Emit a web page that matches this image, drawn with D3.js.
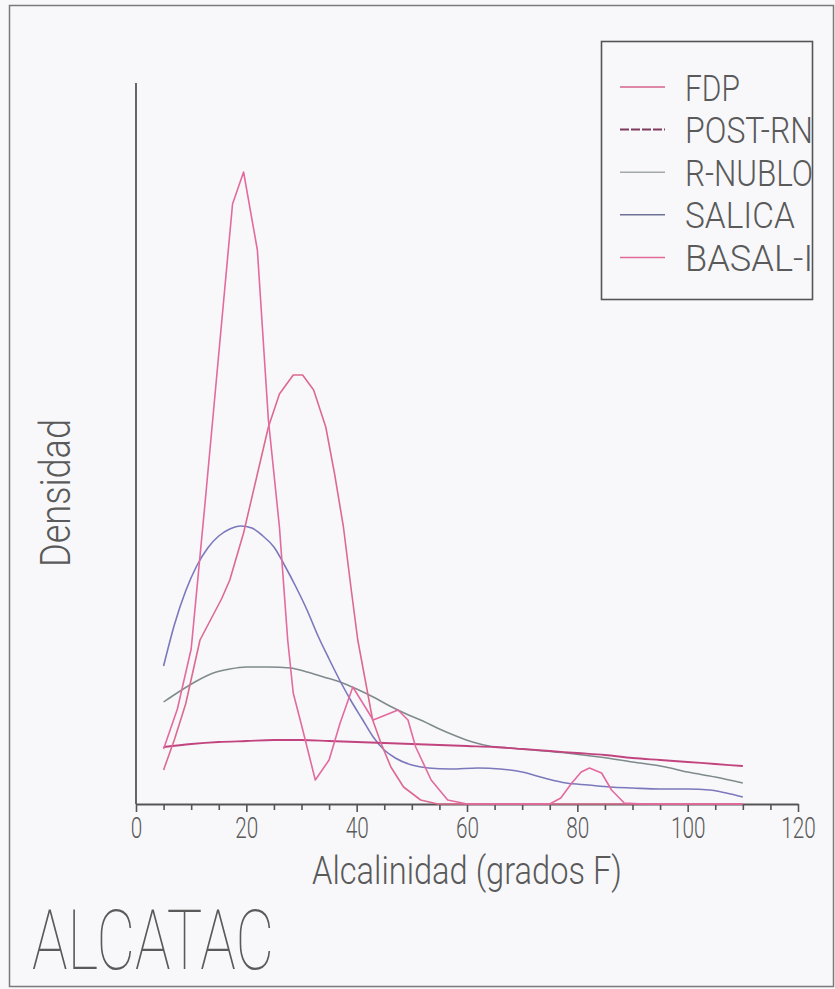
<!DOCTYPE html>
<html><head><meta charset="utf-8">
<script src="https://cdn.jsdelivr.net/npm/d3@7/dist/d3.min.js"></script>
<style>
html,body{margin:0;padding:0;background:#f8f8fb;}
svg{display:block;}
text{font-family:Roboto,"Liberation Sans","DejaVu Sans",sans-serif;fill:#5a5a5a;}
</style></head>
<body>
<div id="chart"></div>
<script>
// ---- data (x in grados F, y in relative density units) ----
const seriesNames = ["FDP","POST-RN","R-NUBLO","SALICA","BASAL-I"];

const fdpX = [5,7,9,11.6,13.5,15.5,17,19.5,22,24,26,28.5,30.2,32.2,34.4,36,37.6,39,40.2,42.9,44.4,46.2,48.5,51.6,54.7,60,110];
const fdpY = [3.4,6.5,10,16.4,18.4,20.5,22.4,27.1,33,37.7,41,42.9,42.9,41.4,37.7,33,27.7,21.5,16.4,8.4,6.1,3.7,1.7,0.4,0,0,0];

const postX = [5,10,15,20,25,30,35,40,45,50,55,60,65,70,75,80,85,90,95,100,105,110];
const postY = [5.7,6.0,6.2,6.3,6.4,6.4,6.3,6.2,6.1,6.0,5.9,5.8,5.7,5.5,5.3,5.1,4.9,4.6,4.4,4.2,4.0,3.8];

const nubloX = [5,8,11,14,17,20,24,28,31,34,37,40,43,46,49,52,55,58,61,64,68,72,78,84,90,96,100,105,110];
const nubloY = [10.2,11.3,12.3,13.1,13.5,13.7,13.7,13.6,13.2,12.7,12.2,11.5,10.7,9.8,9.0,8.3,7.5,6.8,6.2,5.8,5.6,5.4,5.1,4.7,4.2,3.7,3.2,2.7,2.1];

const salicaX = [5,7,9,11,13,15,17,19,21,23,25,27,29,31,33,35,37,39,41,43,45,47,50,53,57,62,66,70,74,78,82,86,90,95,100,104,107,110];
const salicaY = [13.8,18.0,21.3,23.8,25.6,26.8,27.5,27.8,27.6,26.8,25.7,23.8,21.7,19.4,16.8,14.5,12.3,10.3,8.5,6.7,5.4,4.6,3.9,3.6,3.5,3.6,3.5,3.2,2.6,2.1,1.9,1.7,1.6,1.5,1.5,1.4,1.1,0.7];

const basalX = [5,7.5,10,12.5,15,17.5,19.5,22,24,26,27.5,28.5,30,32.5,35,37,39.3,43,47.5,49.3,50.7,53.5,56.5,60,75,77,79,80.7,82.2,84.4,86.2,88.5,92,110];
const basalY = [5.5,9.5,15.5,30,45,60,63.2,55.4,38.4,27.7,16.4,11.1,7.9,2.4,4.4,8.1,11.7,8.4,9.4,8.4,5.7,2.4,0.4,0,0,0.6,2.1,3.2,3.6,3.1,1.4,0.1,0,0];

const xTickValues = [0,5,10,15,20,25,30,35,40,45,50,55,60,65,70,75,80,85,90,95,100,105,110,115,120];
const xTickLabels = [0,20,40,60,80,100,120];

const xTitle = "Alcalinidad (grados F)";
const yTitle = "Densidad";
const chartTitle = "ALCATAC";

// ---- layout ----
const W = 835, H = 989;
const svg = d3.select("#chart").append("svg").attr("width",W).attr("height",H);

svg.append("rect").attr("width",W).attr("height",H).attr("fill","#f8f8fb");
// outer frame
svg.append("rect").attr("x",9.5).attr("y",5.5).attr("width",824).attr("height",981)
  .attr("fill","none").attr("stroke","#7a7a7a").attr("stroke-width",1.5);

const x = d3.scaleLinear().domain([0,120]).range([136,798]);
const y = d3.scaleLinear().domain([0,72]).range([804,84]);

// axes
const xAxis = d3.axisBottom(x).tickValues(xTickValues).tickSize(6).tickSizeOuter(0)
  .tickFormat(d => xTickLabels.includes(d) ? String(d) : "");
const gx = svg.append("g").attr("transform",`translate(0,${y(0)})`).call(xAxis);
gx.select(".domain").attr("stroke","#555").attr("stroke-width",1.8);
gx.selectAll(".tick line").attr("stroke","#555").attr("stroke-width",1.6)
  .attr("y2", d => xTickLabels.includes(d) ? 8 : 6);
gx.selectAll(".tick text")
  .attr("y",13).attr("dy","0.71em")
  .style("font-size","30px").style("font-family","Roboto, 'Liberation Sans', sans-serif").style("font-weight","300")
  .attr("fill","#5a5a5a")
  .each(function(d){ if(xTickLabels.includes(d)){ const n=String(d).length; d3.select(this).attr("textLength",n*11.5).attr("lengthAdjust","spacingAndGlyphs"); }});

svg.append("line").attr("x1",x(0)).attr("x2",x(0)).attr("y1",y(0)).attr("y2",83)
  .attr("stroke","#555").attr("stroke-width",1.8);

// titles
svg.append("text").attr("x",467).attr("y",884).attr("text-anchor","middle")
  .style("font-size","38px").style("font-weight","300").attr("textLength",310).attr("lengthAdjust","spacingAndGlyphs")
  .text(xTitle);
svg.append("text").attr("transform","translate(70,493) rotate(-90)").attr("text-anchor","middle")
  .style("font-size","42px").style("font-weight","300").attr("textLength",148).attr("lengthAdjust","spacingAndGlyphs")
  .text(yTitle);
svg.append("text").attr("x",32).attr("y",969)
  .style("font-size","84px").style("font-family","Roboto, Lato, sans-serif").style("font-weight","100")
  .attr("textLength",242).attr("lengthAdjust","spacingAndGlyphs")
  .attr("fill","#555").text(chartTitle);

// series
const series = [
  {name:"FDP", xs:fdpX, ys:fdpY, color:"#dc6a8e", w:1.6, curve:d3.curveLinear},
  {name:"POST-RN", xs:postX, ys:postY, color:"#c2447f", w:1.8, curve:d3.curveMonotoneX},
  {name:"R-NUBLO", xs:nubloX, ys:nubloY, color:"#7f8a8c", w:1.5, curve:d3.curveMonotoneX},
  {name:"SALICA", xs:salicaX, ys:salicaY, color:"#7b78bc", w:1.6, curve:d3.curveMonotoneX},
  {name:"BASAL-I", xs:basalX, ys:basalY, color:"#e36a9e", w:1.6, curve:d3.curveLinear}
];
const drawOrder = ["R-NUBLO","SALICA","POST-RN","FDP","BASAL-I"];
drawOrder.forEach(nm => {
  const s = series.find(d=>d.name===nm);
  const pts = s.xs.map((v,i)=>[v,s.ys[i]]);
  svg.append("path").datum(pts)
    .attr("d", d3.line().x(d=>x(d[0])).y(d=>y(d[1])).curve(s.curve))
    .attr("fill","none").attr("stroke",s.color).attr("stroke-width",s.w)
    .attr("stroke-linejoin","round");
});

// legend
const legendColors = {"FDP":"#d4638a","POST-RN":"#7e3a5c","R-NUBLO":"#a4a8aa","SALICA":"#6e7096","BASAL-I":"#e06a98"};
const lg = svg.append("g");
lg.append("rect").attr("x",601.5).attr("y",41.5).attr("width",211).attr("height",258)
  .attr("fill","#f8f8fb").attr("stroke","#555").attr("stroke-width",1.6);
seriesNames.forEach((nm,i) => {
  const cy = 87 + i*42.6;
  lg.append("line").attr("x1",620).attr("x2",665).attr("y1",cy).attr("y2",cy)
    .attr("stroke",legendColors[nm]).attr("stroke-width", nm==="POST-RN"?2:1.5)
    .attr("stroke-dasharray", nm==="POST-RN"?"9,2":null);
  lg.append("text").attr("x",685).attr("y",cy+13.5)
    .style("font-size","37px").style("font-weight","300").attr("textLength",nm.length*18.3).attr("lengthAdjust","spacingAndGlyphs")
    .text(nm);
});
</script>
</body></html>
